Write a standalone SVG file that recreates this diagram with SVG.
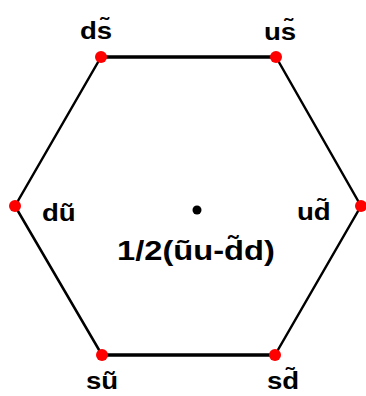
<svg xmlns="http://www.w3.org/2000/svg" width="366" height="396" viewBox="0 0 366 396">
<style>
.lbl{font-family:"Liberation Sans",Arial,sans-serif;font-weight:bold;font-size:24px;fill:#000}
.ctr{font-family:"Liberation Sans",Arial,sans-serif;font-weight:bold;font-size:27px;fill:#000}
.edge{stroke:#000;stroke-linecap:round;fill:none}
.v{fill:#ff0000}
</style>
<rect width="366" height="396" fill="#fff"/>
<g id="connectors">
<line class="edge" x1="101" y1="57" x2="276" y2="57" stroke-width="3.5"/>
<line class="edge" x1="276" y1="57" x2="361" y2="206" stroke-width="2.5"/>
<line class="edge" x1="361" y1="206" x2="275" y2="355" stroke-width="2.5"/>
<line class="edge" x1="275" y1="355" x2="102" y2="355" stroke-width="3.5"/>
<line class="edge" x1="102" y1="355" x2="15" y2="206" stroke-width="2.5"/>
<line class="edge" x1="15" y1="206" x2="101" y2="57" stroke-width="2.5"/>
</g>
<g id="ds">
<circle class="v" cx="101" cy="57" r="6"/>
<text class="lbl" transform="translate(80,39) scale(1.15,1)">ds&#x303;</text>
</g>
<g id="us">
<circle class="v" cx="276" cy="57" r="6"/>
<text class="lbl" transform="translate(264,40) scale(1.15,1)">us&#x303;</text>
</g>
<g id="du">
<circle class="v" cx="15" cy="206" r="6"/>
<text class="lbl" transform="translate(42,221) scale(1.15,1)">d&#x169;</text>
</g>
<g id="ud">
<circle class="v" cx="361" cy="206" r="6"/>
<text class="lbl" transform="translate(297,220) scale(1.15,1)">ud&#x303;</text>
</g>
<g id="su">
<circle class="v" cx="102" cy="355" r="6"/>
<text class="lbl" transform="translate(86,389) scale(1.15,1)">s&#x169;</text>
</g>
<g id="sd">
<circle class="v" cx="275" cy="355" r="6"/>
<text class="lbl" transform="translate(267,389) scale(1.15,1)">sd&#x303;</text>
</g>
<g id="center">
<circle cx="197" cy="210" r="4.5" fill="#000"/>
<text class="ctr" transform="translate(117,260) scale(1.21,1)">1/2(&#x169;u-d&#x303;d)</text>
</g>
</svg>
